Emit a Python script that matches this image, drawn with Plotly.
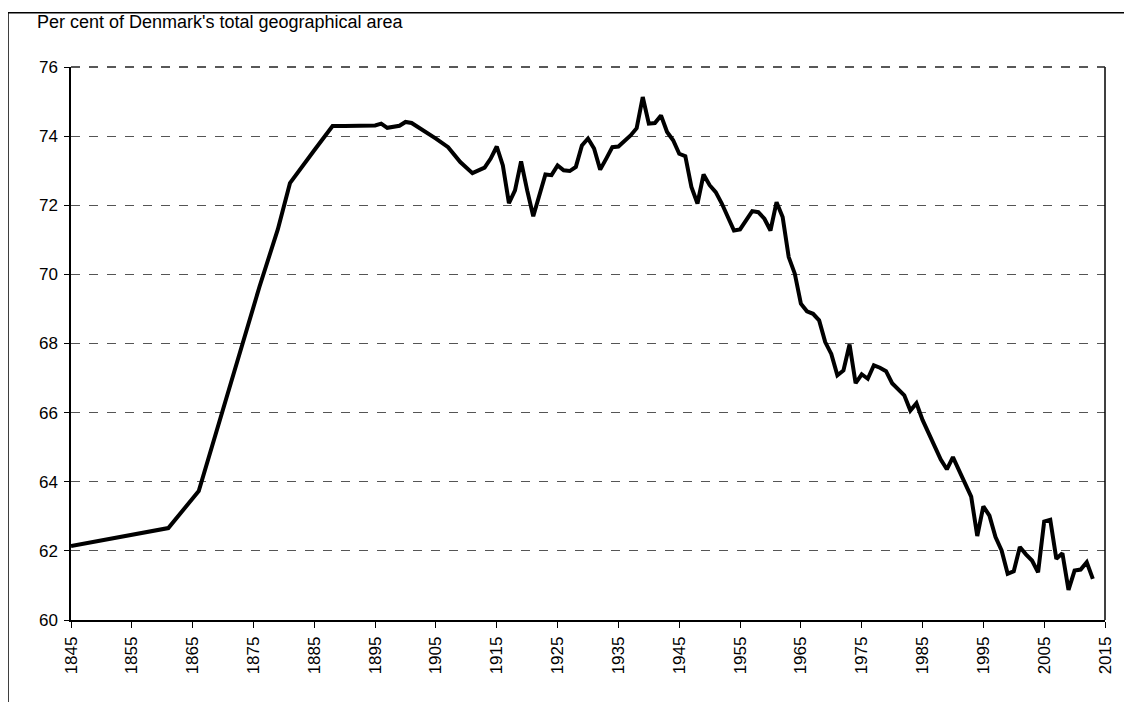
import plotly.graph_objects as go

years = [1845, 1861, 1866, 1871, 1876, 1879, 1881, 1885, 1888,
         1890, 1892, 1894, 1895, 1896, 1897, 1899, 1900, 1901, 1903, 1905,
         1907, 1909, 1911, 1913, 1914, 1915, 1916, 1917, 1918, 1919, 1920,
         1921, 1923, 1924, 1925, 1926, 1927, 1928, 1929, 1930, 1931, 1932,
         1933, 1934, 1935, 1936, 1937, 1938, 1939, 1940, 1941, 1942, 1943,
         1944, 1945, 1946, 1947, 1948, 1949, 1950, 1951, 1952, 1953, 1954,
         1955, 1956, 1957, 1958, 1959, 1960, 1961, 1962, 1963, 1964, 1965,
         1966, 1967, 1968, 1969, 1970, 1971, 1972, 1973, 1974, 1975, 1976,
         1977, 1978, 1979, 1980, 1981, 1982, 1983, 1984, 1985, 1986, 1987,
         1988, 1989, 1990, 1991, 1992, 1993, 1994, 1995, 1996, 1997, 1998,
         1999, 2000, 2001, 2002, 2003, 2004, 2005, 2006, 2007, 2008, 2009,
         2010, 2011, 2012, 2013]
share = [62.14, 62.66, 63.73, 66.65, 69.65, 71.30, 72.64, 73.59, 74.29,
         74.29, 74.29, 74.29, 74.31, 74.36, 74.24, 74.30, 74.41, 74.38, 74.17, 73.93,
         73.68, 73.25, 72.93, 73.09, 73.35, 73.70, 73.15, 72.06, 72.43, 73.27, 72.43,
         71.68, 72.89, 72.87, 73.15, 73.01, 72.99, 73.11, 73.73, 73.93, 73.64, 73.03,
         73.35, 73.68, 73.70, 73.86, 74.02, 74.23, 75.13, 74.36, 74.38, 74.60, 74.12,
         73.88, 73.49, 73.42, 72.53, 72.05, 72.89, 72.58, 72.38, 72.05, 71.66, 71.27,
         71.30, 71.56, 71.83, 71.80, 71.61, 71.27, 72.09, 71.66, 70.50, 70.02, 69.15,
         68.93, 68.86, 68.67, 68.04, 67.70, 67.08, 67.22, 67.97, 66.85, 67.11, 66.98,
         67.37, 67.30, 67.20, 66.85, 66.66, 66.50, 66.06, 66.27, 65.79, 65.39, 64.98,
         64.64, 64.36, 64.71, 64.33, 63.96, 63.57, 62.43, 63.29, 63.02, 62.40, 62.01,
         61.34, 61.41, 62.11, 61.90, 61.72, 61.38, 62.85, 62.90, 61.77, 61.93, 60.87,
         61.43, 61.46, 61.67, 61.19]

x_ticks = list(range(1845, 2016, 10))
y_ticks = list(range(60, 77, 2))
y_title = "Per cent of Denmark's total geographical area"

# page body has an 8px margin; plot area should land at x 71..1105, y 67..619 on screen
W, H = 1124, 694
L, T = 63, 59
PW, PH = 1034, 552.6
R = W - L - PW
B = H - T - PH

fig = go.Figure()
fig.add_trace(go.Scatter(x=years, y=share, mode="lines",
                         line=dict(color="black", width=4),
                         showlegend=False, hoverinfo="skip"))

tick_font = dict(family="Liberation Sans, Arial, sans-serif", size=17, color="black")
title_font = dict(family="Liberation Sans, Arial, sans-serif", size=18, color="black")

fig.update_layout(
    width=W, height=H,
    margin=dict(l=L, r=R, t=T, b=B, pad=0),
    paper_bgcolor="white", plot_bgcolor="white",
    font=tick_font,
    xaxis=dict(range=[1845, 2015], tickvals=x_ticks, ticktext=[str(v) for v in x_ticks],
               tickangle=-90, ticks="outside", ticklen=6, tickcolor="black",
               showline=True, linecolor="black", linewidth=1.5, mirror=False,
               showgrid=False, zeroline=False, tickfont=tick_font,
               ticklabelstandoff=2),
    yaxis=dict(range=[60, 76], tickvals=y_ticks, ticks="outside", ticklen=5,
               tickcolor="black", showline=True, linecolor="black", linewidth=1.5,
               showgrid=True, gridcolor="#555555", gridwidth=1, griddash="dash",
               zeroline=False, tickfont=tick_font, ticklabelstandoff=3),
)

# right border of plot area
fig.add_shape(type="line", xref="paper", yref="paper", x0=1, x1=1, y0=0, y1=1,
              line=dict(color="black", width=1.5))
# top edge (dark dashed)
fig.add_shape(type="line", xref="paper", yref="paper", x0=0, x1=1, y0=1, y1=1,
              line=dict(color="#222222", width=1.5, dash="dash"))
# outer frame
fig.add_shape(type="rect", xref="paper", yref="paper",
              x0=(0 - L) / PW, x1=1.3, y0=-0.3, y1=(T + PH - 4.7) / PH,
              line=dict(color="black", width=1.5), layer="below")

fig.add_annotation(text=y_title, xref="paper", yref="paper",
                   x=(27 - L) / PW, y=(T + PH - 14) / PH,
                   xanchor="left", yanchor="middle", showarrow=False, font=title_font)

fig.write_html("out.html")
